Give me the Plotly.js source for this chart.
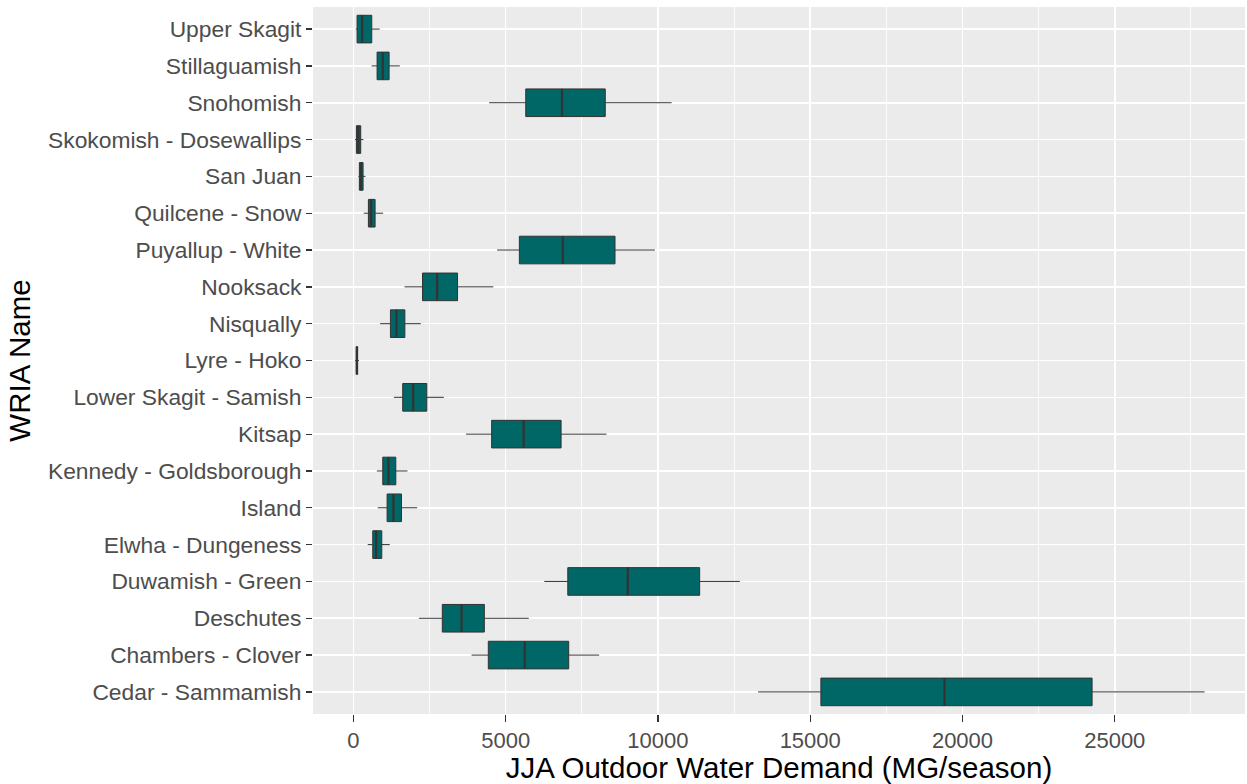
<!DOCTYPE html>
<html>
<head>
<meta charset="utf-8">
<script src="https://cdn.plot.ly/plotly-3.0.1.min.js"></script>
<style>
  html, body { margin: 0; padding: 0; background: #ffffff; }
  #chart { width: 1247px; height: 784px; }
</style>
</head>
<body>
<div id="chart"></div>
<script>
// WRIA names, listed bottom to top
const wria = [
  "Cedar - Sammamish", "Chambers - Clover", "Deschutes", "Duwamish - Green",
  "Elwha - Dungeness", "Island", "Kennedy - Goldsborough", "Kitsap",
  "Lower Skagit - Samish", "Lyre - Hoko", "Nisqually", "Nooksack",
  "Puyallup - White", "Quilcene - Snow", "San Juan", "Skokomish - Dosewallips",
  "Snohomish", "Stillaguamish", "Upper Skagit"
];

// JJA outdoor water demand summary statistics (MG/season)
const lowerWhisker = [13290, 3880, 2150, 6270, 470, 800, 770, 3700, 1330, 60, 880, 1680, 4720, 340, 165, 55, 4460, 600, 77];
const q1Values     = [15350, 4430, 2920, 7040, 636, 1107, 965, 4540, 1620, 95, 1217, 2270, 5450, 493, 197, 99, 5660, 778, 121];
const medianValues = [19410, 5625, 3550, 9010, 746, 1316, 1151, 5590, 1963, 115, 1414, 2752, 6875, 581, 252, 164, 6850, 965, 285];
const q3Values     = [24255, 7070, 4300, 11370, 932, 1580, 1393, 6820, 2410, 140, 1690, 3420, 8590, 713, 318, 241, 8270, 1173, 603];
const upperWhisker = [27950, 8070, 5760, 12690, 1195, 2094, 1776, 8310, 2970, 180, 2215, 4595, 9900, 976, 395, 329, 10450, 1524, 866];

const xTicks = [0, 5000, 10000, 15000, 20000, 25000];

const BOX_WIDTH = 0.75;       // box thickness in category units
const Y_RANGE = [-0.6, 18.6];

const boxes = {
  type: "box",
  orientation: "h",
  y: wria,
  q1: q1Values,
  median: medianValues,
  q3: q3Values,
  lowerfence: lowerWhisker,
  upperfence: upperWhisker,
  fillcolor: "#006666",
  line: { color: "#333333", width: 1 },
  whiskerwidth: 0,
  boxpoints: false,
  hoverinfo: "skip",
  showlegend: false
};

// Heavier median bars drawn over each box (on a numeric twin of the category axis)
const medX = [], medY = [];
medianValues.forEach((m, i) => {
  medX.push(m, m, null);
  medY.push(i - BOX_WIDTH / 2, i + BOX_WIDTH / 2, null);
});
const medians = {
  type: "scatter",
  mode: "lines",
  x: medX,
  y: medY,
  yaxis: "y2",
  line: { color: "#333333", width: 2.2 },
  hoverinfo: "skip",
  showlegend: false
};

const layout = {
  width: 1247,
  height: 784,
  margin: { l: 313, r: 2, t: 7, b: 70 },
  paper_bgcolor: "#ffffff",
  plot_bgcolor: "#EBEBEB",
  font: { family: "Liberation Sans, Arial, sans-serif", color: "#4D4D4D" },
  boxgap: 1 - BOX_WIDTH,
  boxgroupgap: 0,
  xaxis: {
    range: [-1326, 29276],
    tickvals: xTicks,
    ticktext: xTicks.map(String),
    showgrid: true,
    gridcolor: "#ffffff",
    gridwidth: 1.6,
    zeroline: false,
    showline: false,
    ticks: "outside",
    ticklen: 7,
    tickwidth: 1.3,
    tickcolor: "#333333",
    tickfont: { size: 22, color: "#4D4D4D" },
    minor: { dtick: 2500, tick0: 2500, showgrid: true, gridcolor: "#ffffff", gridwidth: 0.8, ticks: "" },
    title: { text: "JJA Outdoor Water Demand (MG/season)", font: { size: 29.5, color: "#000000" }, standoff: 6 }
  },
  yaxis: {
    type: "category",
    categoryorder: "array",
    categoryarray: wria,
    range: Y_RANGE,
    showgrid: true,
    gridcolor: "#ffffff",
    gridwidth: 1.6,
    zeroline: false,
    showline: false,
    ticks: "outside",
    ticklen: 6,
    tickwidth: 1.3,
    tickcolor: "#333333",
    tickfont: { size: 22.8, color: "#4D4D4D" },
    title: { text: "WRIA Name", font: { size: 29.5, color: "#000000" }, standoff: 8 }
  },
  yaxis2: {
    type: "linear",
    overlaying: "y",
    range: Y_RANGE,
    visible: false,
    showgrid: false,
    zeroline: false
  }
};

Plotly.newPlot("chart", [boxes, medians], layout, { displayModeBar: false, staticPlot: true });
</script>
</body>
</html>
